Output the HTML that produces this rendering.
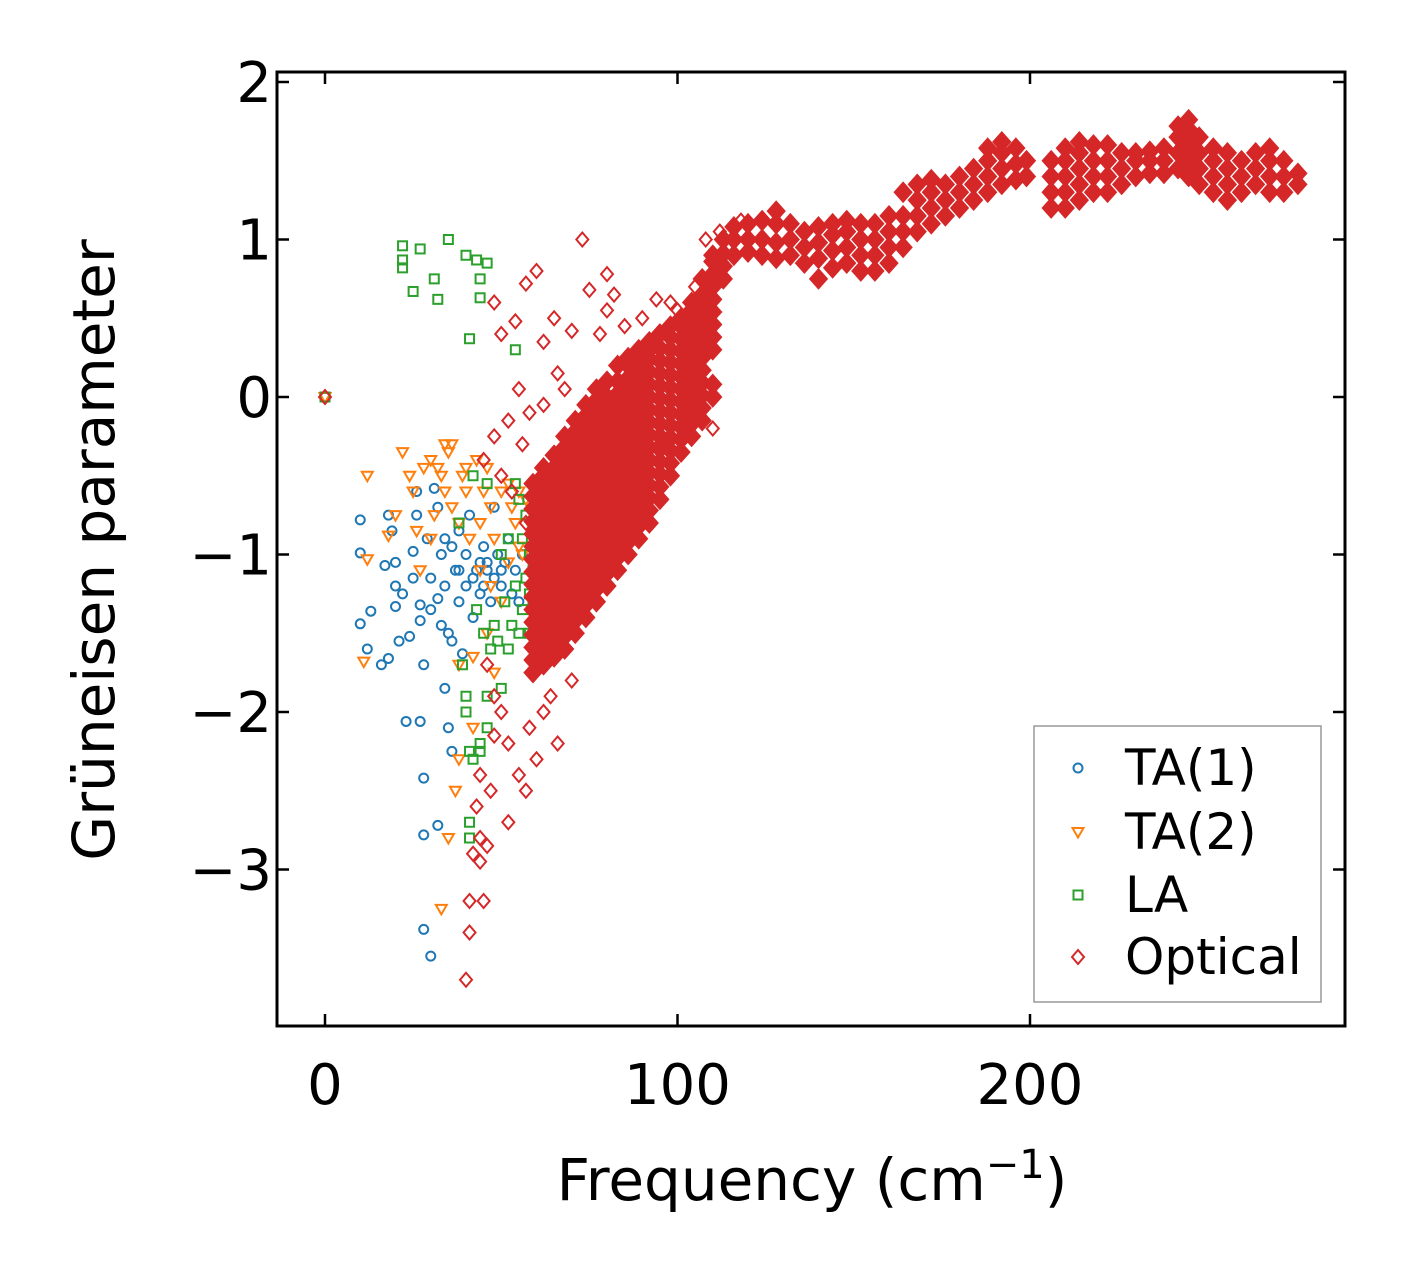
<!DOCTYPE html>
<html><head><meta charset="utf-8"><style>
html,body{margin:0;padding:0;background:#fff}
svg{display:block;font-family:"DejaVu Sans","Liberation Sans",sans-serif}
</style></head><body>
<svg id="chart" width="1406" height="1276" viewBox="0 0 1406 1276" xmlns="http://www.w3.org/2000/svg">
<rect width="1406" height="1276" fill="#fff"/>
<g id="marks"></g>
<g id="axes"></g>
</svg>
<script>
// ---- data ----
const xTicks = [0, 100, 200];
const yTicks = [-3, -2, -1, 0, 1, 2];
const yTickLabels = ["\u22123", "\u22122", "\u22121", "0", "1", "2"];
const ta1 = [[0,0],[10,-0.78],[10,-0.99],[10,-1.44],[12,-1.6],[13,-1.36],[16,-1.7],[17,-1.07],[18,-1.66],[18,-0.75],[19,-0.85],[20,-1.05],[20,-1.2],[20,-1.33],[21,-1.55],[22,-1.25],[23,-2.06],[24,-1.52],[25,-1.15],[25,-0.98],[26,-0.6],[26,-0.75],[27,-1.32],[27,-1.42],[27,-2.06],[28,-1.7],[28,-2.42],[28,-3.38],[28,-2.78],[30,-3.55],[30,-1.15],[31,-0.58],[32,-0.7],[32,-1.28],[32,-2.72],[33,-1.45],[33,-1.0],[34,-1.85],[34,-0.9],[35,-1.5],[35,-2.1],[36,-1.55],[36,-2.25],[37,-1.1],[38,-0.85],[38,-1.3],[39,-1.63],[40,-1.2],[40,-1.0],[41,-0.75],[42,-1.4],[43,-1.1],[44,-1.05],[45,-0.95],[45,-1.2],[46,-1.1],[47,-1.3],[48,-0.7],[48,-1.15],[49,-1.0],[50,-1.2],[51,-1.05],[52,-0.9],[53,-1.25],[54,-1.1],[55,-1.3],[56,-1.0],[44,-1.25],[42,-1.15],[46,-1.05],[50,-1.1],[34,-1.2],[30,-1.35],[29,-0.9],[36,-0.95],[38,-1.1]];
const ta2 = [[0,0],[12,-0.5],[12,-1.03],[11,-1.68],[18,-0.88],[20,-0.75],[22,-0.35],[24,-0.5],[25,-0.6],[26,-0.85],[27,-1.1],[28,-0.45],[30,-0.4],[32,-0.45],[33,-3.25],[34,-0.3],[35,-0.35],[36,-0.3],[35,-2.8],[37,-2.5],[38,-2.3],[38,-1.7],[39,-0.5],[40,-0.45],[40,-0.6],[41,-0.9],[42,-1.65],[42,-2.1],[43,-0.4],[44,-0.8],[45,-0.6],[46,-0.45],[46,-1.5],[47,-0.7],[48,-0.9],[48,-1.75],[50,-0.6],[50,-1.3],[52,-0.55],[53,-0.7],[54,-0.8],[55,-0.6],[56,-1.0],[57,-0.65],[58,-0.8],[38,-0.8],[36,-0.7],[34,-0.6],[30,-0.9],[44,-1.1],[47,-1.2],[52,-1.05],[55,-0.95],[33,-0.5],[31,-0.75]];
const la = [[0,0],[22,0.82],[22,0.87],[22,0.96],[25,0.67],[27,0.94],[31,0.75],[32,0.62],[35,1.0],[40,0.9],[41,0.37],[43,0.87],[44,0.63],[44,0.75],[46,0.85],[54,0.3],[38,-0.8],[39,-1.7],[40,-1.9],[40,-2.0],[41,-2.25],[41,-2.7],[41,-2.8],[42,-2.3],[43,-1.35],[44,-2.2],[45,-1.5],[46,-2.1],[46,-1.9],[47,-1.6],[48,-1.45],[49,-1.55],[50,-1.85],[51,-1.3],[52,-1.6],[53,-1.45],[54,-1.2],[55,-1.5],[56,-1.35],[57,-1.15],[58,-1.25],[59,-1.1],[59,-1.3],[60,-1.2],[58,-1.0],[57,-0.75],[56,-0.9],[55,-0.65],[54,-0.55],[52,-0.9],[50,-1.0],[60,-1.4],[58,-1.5],[46,-0.55],[42,-0.5],[44,-2.25]];
// optical: dense columns [x, [y...]]
const opticalCols = [
[59,[-1.75,-1.67,-1.59,-1.51,-1.43,-1.35,-1.27,-1.19,-1.11,-1.03,-0.95,-0.87,-0.79,-0.71,-0.63,-0.55]],
[62,[-1.7,-1.62,-1.54,-1.46,-1.38,-1.3,-1.22,-1.14,-1.06,-0.98,-0.9,-0.82,-0.74,-0.66,-0.58,-0.5,-0.45]],
[65,[-1.65,-1.57,-1.49,-1.41,-1.33,-1.25,-1.17,-1.09,-1.01,-0.93,-0.85,-0.77,-0.69,-0.61,-0.53,-0.45,-0.37]],
[68,[-1.6,-1.52,-1.44,-1.36,-1.28,-1.2,-1.12,-1.04,-0.96,-0.88,-0.8,-0.72,-0.64,-0.56,-0.48,-0.4,-0.32,-0.25]],
[71,[-1.5,-1.42,-1.34,-1.26,-1.18,-1.1,-1.02,-0.94,-0.86,-0.78,-0.7,-0.62,-0.54,-0.46,-0.38,-0.3,-0.22,-0.15]],
[74,[-1.4,-1.32,-1.24,-1.16,-1.08,-1.0,-0.92,-0.84,-0.76,-0.68,-0.6,-0.52,-0.44,-0.36,-0.28,-0.2,-0.12,-0.05]],
[77,[-1.3,-1.22,-1.14,-1.06,-0.98,-0.9,-0.82,-0.74,-0.66,-0.58,-0.5,-0.42,-0.34,-0.26,-0.18,-0.1,-0.02,0.05]],
[80,[-1.2,-1.12,-1.04,-0.96,-0.88,-0.8,-0.72,-0.64,-0.56,-0.48,-0.4,-0.32,-0.24,-0.16,-0.08,0.0,0.1]],
[83,[-1.1,-1.02,-0.94,-0.86,-0.78,-0.7,-0.62,-0.54,-0.46,-0.38,-0.3,-0.22,-0.14,-0.06,0.02,0.1,0.2]],
[86,[-1.0,-0.92,-0.84,-0.76,-0.68,-0.6,-0.52,-0.44,-0.36,-0.28,-0.2,-0.12,-0.04,0.04,0.12,0.2,0.25]],
[89,[-0.9,-0.82,-0.74,-0.66,-0.58,-0.5,-0.42,-0.34,-0.26,-0.18,-0.1,-0.02,0.06,0.14,0.22,0.3]],
[92,[-0.8,-0.72,-0.64,-0.56,-0.48,-0.4,-0.32,-0.24,-0.16,-0.08,0.0,0.08,0.16,0.24,0.3,0.35]],
[95,[-0.65,-0.57,-0.49,-0.41,-0.33,-0.25,-0.17,-0.09,-0.01,0.07,0.15,0.23,0.31,0.4]],
[98,[-0.5,-0.42,-0.34,-0.26,-0.18,-0.1,-0.02,0.06,0.14,0.22,0.3,0.38,0.45]],
[101,[-0.35,-0.27,-0.19,-0.11,-0.03,0.05,0.13,0.21,0.29,0.37,0.45,0.5]],
[104,[-0.25,-0.17,-0.09,-0.01,0.07,0.15,0.23,0.31,0.39,0.47,0.55,0.6]],
[107,[-0.15,-0.07,0.01,0.09,0.17,0.25,0.33,0.41,0.49,0.57,0.65,0.75]],
[110,[0.0,0.08,0.3,0.38,0.46,0.54,0.62,0.7,0.78,0.86,0.9]],
[113,[0.75,0.83,0.91,1.0]],
[116,[0.9,1.0,1.08]],[120,[0.92,1.0,1.1]],[124,[0.9,1.0,1.12]],[128,[0.88,0.98,1.1,1.18]],
[132,[0.9,1.0,1.1]],[136,[0.85,0.95,1.05]],[140,[0.75,0.88,0.98,1.08]],[144,[0.82,0.93,1.03,1.1]],
[148,[0.85,0.95,1.05,1.12]],[152,[0.8,0.9,1.0,1.1]],[156,[0.8,0.9,1.0,1.1]],[160,[0.85,0.95,1.05,1.15]],
[164,[0.95,1.05,1.15,1.3]],[168,[1.05,1.15,1.25,1.35]],[172,[1.1,1.2,1.3,1.38]],[176,[1.15,1.25,1.35]],
[180,[1.2,1.3,1.4]],[184,[1.25,1.35,1.45]],[188,[1.3,1.4,1.5,1.58]],[192,[1.35,1.45,1.55,1.62]],
[196,[1.38,1.48,1.58]],[199,[1.4,1.5]],
[206,[1.2,1.3,1.4,1.5]],[210,[1.2,1.3,1.4,1.5,1.58]],[214,[1.25,1.35,1.45,1.55,1.62]],[218,[1.3,1.4,1.5,1.6]],
[222,[1.3,1.4,1.5,1.6]],[226,[1.35,1.45,1.55]],[230,[1.4,1.5,1.55]],[234,[1.42,1.5,1.56]],
[238,[1.42,1.5,1.58]],[242,[1.45,1.55,1.65,1.72]],[245,[1.4,1.5,1.6,1.7,1.76]],[248,[1.35,1.45,1.55,1.65]],
[252,[1.3,1.4,1.5,1.58]],[256,[1.25,1.35,1.45,1.55]],[260,[1.3,1.4,1.5]],[264,[1.35,1.45,1.55]],
[268,[1.3,1.4,1.5,1.58]],[272,[1.3,1.4,1.5]],[276,[1.35,1.42]]
];
const opticalSparse = [[73,1.0],[60,0.8],[80,0.78],[75,0.68],[57,0.72],[48,0.6],[50,0.4],[54,0.48],[62,0.35],[70,0.42],[65,0.5],[66,0.15],[68,0.05],[55,0.05],[52,-0.15],[48,-0.25],[58,-0.1],[62,-0.05],[56,-0.3],[45,-0.4],[50,-0.5],[53,-0.6],[57,-0.8],[46,-1.7],[48,-1.9],[50,-2.0],[52,-2.2],[55,-2.4],[57,-2.5],[44,-2.4],[47,-2.5],[52,-2.7],[43,-2.6],[44,-2.8],[46,-2.85],[42,-2.9],[44,-2.95],[41,-3.2],[45,-3.2],[41,-3.4],[40,-3.7],[48,-2.15],[58,-2.1],[60,-2.3],[62,-2.0],[64,-1.9],[68,-1.6],[70,-1.8],[66,-2.2],[75,-1.3],[78,-1.2],[85,-0.9],[90,-0.6],[95,-0.3],[110,-0.2],[98,0.6],[100,0.55],[90,0.5],[85,0.45],[80,0.55],[78,0.4],[82,0.65],[94,0.62],[105,0.7],[108,1.0],[112,1.05],[118,1.12],[0,0]];

// ---- layout ----
const L=277,R=1345,T=72,B=1026;
const X = v => 325 + v*3.525;
const Y = v => 397 - v*157.5;
const NS="http://www.w3.org/2000/svg";
const marks=document.getElementById('marks'), axes=document.getElementById('axes');
const C={ta1:"#1f77b4",ta2:"#ff7f0e",la:"#2ca02c",opt:"#d62728"};
function mk(tag,parent,attrs){const e=document.createElementNS(NS,tag);for(const k in attrs)e.setAttribute(k,attrs[k]);parent.appendChild(e);return e;}
function marker(kind,cx,cy,parent,dense){
  let e;
  if(kind==='ta1') e=mk('circle',parent,{cx:cx,cy:cy,r:4.5,fill:'none',stroke:C.ta1,'stroke-width':2});
  else if(kind==='ta2') e=mk('polygon',parent,{points:`${cx-5.5},${cy-4} ${cx+5.5},${cy-4} ${cx},${cy+5.5}`,fill:'none',stroke:C.ta2,'stroke-width':2});
  else if(kind==='la') e=mk('rect',parent,{x:cx-4.5,y:cy-4.5,width:9,height:9,fill:'none',stroke:C.la,'stroke-width':2});
  else if(dense) e=mk('polygon',parent,{points:`${cx},${cy-9} ${cx+8},${cy} ${cx},${cy+9} ${cx-8},${cy}`,fill:C.opt,stroke:C.opt,'stroke-width':2.5});
  else e=mk('polygon',parent,{points:`${cx},${cy-7} ${cx+6},${cy} ${cx},${cy+7} ${cx-6},${cy}`,fill:'none',stroke:C.opt,'stroke-width':2});
  return e;
}
const gA=mk('g',marks,{});
ta1.forEach(p=>{const e=marker('ta1',X(p[0]),Y(p[1]),gA);

});
const gB=mk('g',marks,{});
ta2.forEach(p=>{const e=marker('ta2',X(p[0]),Y(p[1]),gB);

});
const gC=mk('g',marks,{});
la.forEach(p=>{const e=marker('la',X(p[0]),Y(p[1]),gC);

});
const gD=mk('g',marks,{});
opticalCols.forEach(col=>col[1].forEach(y=>{const e=marker('opt',X(col[0]),Y(y),gD,true);

}));
opticalSparse.forEach(p=>{const e=marker('opt',X(p[0]),Y(p[1]),gD,false);

});

// frame
const fr=mk('rect',axes,{x:L,y:T,width:R-L,height:B-T,fill:'none',stroke:'#000','stroke-width':3});


xTicks.forEach(v=>{const x=X(v);
  mk('line',axes,{x1:x,x2:x,y1:B,y2:B-12,stroke:'#000','stroke-width':2.5});
  mk('line',axes,{x1:x,x2:x,y1:T,y2:T+12,stroke:'#000','stroke-width':2.5});
  const t=mk('text',axes,{x:x,y:1104,'text-anchor':'middle','font-size':56});t.textContent=v;
  
  
});
yTicks.forEach((v,i)=>{const y=Y(v);
  mk('line',axes,{x1:L,x2:L+12,y1:y,y2:y,stroke:'#000','stroke-width':2.5});
  mk('line',axes,{x1:R,x2:R-12,y1:y,y2:y,stroke:'#000','stroke-width':2.5});
  const t=mk('text',axes,{x:272,y:y+20,'text-anchor':'end','font-size':56});t.textContent=yTickLabels[i];
  
  
});
const xt=mk('text',axes,{x:812,y:1200,'text-anchor':'middle','font-size':58});
xt.innerHTML='Frequency (cm<tspan dy="-22" font-size="40">\u22121</tspan><tspan dy="22">)</tspan>';


const yt=mk('text',axes,{x:0,y:0,'text-anchor':'middle','font-size':58,transform:'translate(114,550) rotate(-90)'});
yt.textContent='Grüneisen parameter';



// legend
const lg=mk('g',axes,{});


mk('rect',lg,{x:1034,y:726,width:287,height:276,fill:'#fff','fill-opacity':0.85,stroke:'#999','stroke-width':1.5});
[['ta1','TA(1)',768],['ta2','TA(2)',832],['la','LA',895],['opt','Optical',957]].forEach(en=>{
  const g=mk('g',lg,{});
  
  
  marker(en[0],1078,en[2],g,false);
  const t=mk('text',g,{x:1125,y:en[2]+17,'font-size':50});t.textContent=en[1];
});
</script>
</body></html>
